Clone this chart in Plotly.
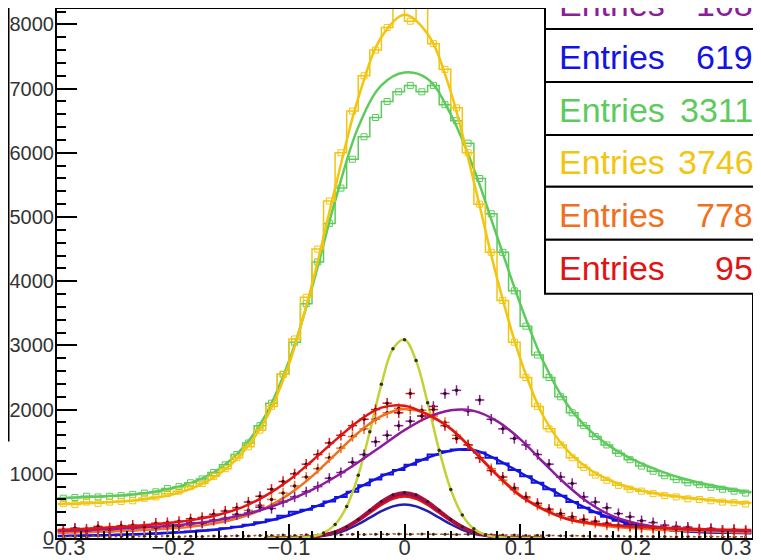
import plotly.graph_objects as go

# ---------------- data ----------------
bin_centers = [round(-0.295 + 0.01 * i, 3) for i in range(60)]
fit_x = [round(-0.30 + 0.02 * i, 2) for i in range(31)]
peak_x = [round(-0.12 + 0.01 * i, 2) for i in range(25)]
x_ticks = [-0.3, -0.2, -0.1, 0, 0.1, 0.2, 0.3]
x_ticktext = ["\u00a0\u00a0\u22120.3", "\u22120.2", "\u22120.1", "0", "0.1", "0.2",
              "0.3\u00a0\u00a0\u00a0\u00a0\u00a0"]

yellow_hist = [540, 520, 560, 540, 560, 570, 580, 620, 640, 690,
               730, 800, 850, 960, 1080, 1250, 1420, 1680, 2050, 2550,
               3100, 3750, 4500, 5250, 6000, 6650, 7200, 7600, 7950, 8400,
               8050, 8400, 7700, 7300, 6700, 6000, 5200, 4450, 3700, 3050,
               2500, 2050, 1700, 1450, 1250, 1100, 980, 900, 820, 760,
               730, 690, 660, 640, 610, 600, 580, 560, 550, 530]
yellow_fit = [530, 540, 555, 575, 615, 680, 800, 1000, 1330, 1850,
              2700, 3950, 5450, 6850, 7800, 8150, 7850, 6950, 5550, 4050,
              2800, 1900, 1380, 1070, 880, 760, 690, 640, 600, 570, 545]

green_hist = [620, 630, 650, 640, 650, 660, 680, 700, 720, 770,
              800, 860, 920, 1020, 1140, 1300, 1480, 1750, 2100, 2550,
              3050, 3650, 4300, 4900, 5450, 5900, 6250, 6550, 6800, 6950,
              7050, 6950, 7050, 6750, 6500, 6150, 5600, 5050, 4450, 3850,
              3300, 2850, 2500, 2200, 1950, 1750, 1580, 1450, 1320, 1220,
              1120, 1040, 970, 910, 860, 830, 790, 760, 730, 700]
green_fit = [620, 635, 650, 670, 710, 780, 890, 1080, 1400, 1920,
             2750, 3900, 5250, 6400, 7050, 7250, 7150, 6600, 5750, 4700,
             3650, 2750, 2100, 1680, 1400, 1200, 1050, 930, 840, 770, 710]

blue_hist = [30, 35, 38, 42, 46, 50, 55, 62, 70, 80,
             90, 100, 115, 130, 150, 175, 205, 245, 290, 345,
             410, 440, 500, 570, 640, 720, 820, 910, 990, 1060,
             1140, 1220, 1300, 1350, 1380, 1370, 1330, 1250, 1160, 1060,
             960, 860, 760, 660, 560, 470, 400, 330, 270, 220,
             180, 150, 130, 115, 105, 95, 90, 85, 80, 78]
blue_fit = [30, 36, 44, 53, 65, 82, 105, 138, 185, 255,
            350, 470, 610, 780, 960, 1100, 1250, 1360, 1370, 1220,
            1020, 820, 620, 440, 300, 200, 145, 110, 90, 80, 75]

purple_pts = [120, 150, 110, 140, 130, 170, 150, 180, 160, 200,
              190, 240, 230, 280, 300, 360, 390, 480, 460, 560,
              640, 720, 800, 930, 1020, 1180, 1300, 1500, 1600, 1750,
              1820, 1900, 2050, 2250, 2300, 1980, 2150, 1850, 1700, 1550,
              1450, 1300, 1150, 950, 850, 640, 560, 470, 380, 330,
              270, 240, 200, 180, 170, 140, 150, 120, 130, 110]
purple_fit = [110, 120, 135, 150, 170, 195, 230, 285, 360, 460,
              590, 750, 950, 1180, 1430, 1680, 1880, 1990, 1980, 1820,
              1540, 1180, 830, 540, 340, 230, 170, 140, 125, 115, 110]

red_pts = [130, 150, 140, 180, 160, 190, 200, 180, 230, 240,
           260, 300, 320, 370, 420, 470, 560, 650, 760, 880,
           1000, 1150, 1300, 1480, 1600, 1750, 1850, 2000, 2100, 1950,
           2250, 1900, 2000, 1750, 1550, 1450, 1250, 1050, 950, 780,
           640, 540, 450, 380, 330, 290, 260, 230, 200, 190,
           170, 160, 150, 140, 150, 130, 140, 120, 130, 120]
red_fit = [125, 140, 160, 180, 205, 240, 290, 365, 480, 660,
           900, 1200, 1520, 1820, 2030, 2060, 1920, 1700, 1350, 980,
           660, 450, 300, 235, 200, 175, 160, 148, 138, 130, 125]

orange_pts = [80, 90, 85, 100, 95, 110, 115, 130, 140, 160,
              175, 200, 230, 270, 310, 370, 430, 510, 600, 700,
              810, 950, 1080, 1250, 1400, 1580, 1700, 1850, 1950, 2020,
              2000, 1990, 1900, 1800, 1600, 1450, 1250, 1080, 900, 750,
              620, 510, 420, 350, 300, 260, 230, 200, 180, 165,
              150, 140, 130, 120, 115, 110, 100, 95, 90, 85]
orange_fit = [80, 90, 100, 112, 128, 150, 185, 240, 330, 470,
              680, 960, 1300, 1640, 1900, 2010, 1930, 1700, 1360, 990,
              670, 440, 300, 220, 175, 150, 130, 115, 105, 95, 90]

narrow_peak = [0, 0, 1, 6, 24, 77, 210, 490, 977, 1656, 2393, 2946, 3090,
               2763, 2105, 1367, 756, 357, 143, 49, 14, 3, 1, 0, 0]
bump_darkred = [0, 0, 3, 8, 20, 47, 96, 177, 292, 431, 569, 672, 710,
                672, 569, 431, 292, 177, 96, 47, 20, 8, 3, 0, 0]
bump_purple = [0, 0, 3, 8, 19, 46, 93, 172, 284, 419, 553, 653, 690,
               653, 553, 419, 284, 172, 93, 46, 19, 8, 3, 0, 0]
bump_red = [0, 0, 3, 7, 18, 43, 88, 162, 267, 395, 521, 615, 650,
            615, 521, 395, 267, 162, 88, 43, 18, 7, 3, 0, 0]
bump_blue = [0, 0, 2, 6, 15, 34, 70, 129, 214, 316, 417, 492, 520,
             492, 417, 316, 214, 129, 70, 34, 15, 6, 2, 0, 0]

baseline_vals = [20, 25, 15, 30, 20, 25, 18, 28, 22, 30,
                 20, 26, 24, 30, 28, 35, 30, 40, 38, 45,
                 40, 50, 45, 55, 50, 60, 55, 60, 58, 62,
                 60, 62, 58, 60, 55, 58, 50, 52, 45, 48,
                 40, 42, 38, 36, 35, 32, 30, 28, 30, 25,
                 28, 22, 25, 20, 24, 18, 22, 20, 18, 20]

stat_labels = ["Entries", "Entries", "Entries", "Entries", "Entries", "Entries"]
stat_values = ["10803", "61904", "331190", "374612", "77852", "9573"]

# ---------------- styling ----------------
C_PURPLE = "#8C1C9C"
C_BLUE = "#1414E0"
C_GREEN = "#5CCB5C"
C_YELLOW = "#F2C511"
C_ORANGE = "#F07020"
C_RED = "#E01414"
C_DARKRED = "#A8103C"
C_NARROW = "#C2D236"

# the page places the figure 8 px in from the top-left corner of the window
OFF = 8
W, H = 761, 560
S_LEFT, S_TOP, S_BOTTOM, S_RIGHT = 57, 9, 538.5, 752   # frame edges as seen in the window
L = S_LEFT - OFF
T = S_TOP - OFF
B = H - (S_BOTTOM - OFF)
R = W - (S_RIGHT - OFF)

fig = go.Figure()

fig.add_trace(go.Scatter(x=bin_centers, y=green_hist, mode="lines+markers", line_shape="hvh",
                         line=dict(color=C_GREEN, width=1.5),
                         marker=dict(symbol="square-open", size=6, color=C_GREEN)))
fig.add_trace(go.Scatter(x=fit_x, y=green_fit, mode="lines", line_shape="spline",
                         line=dict(color=C_GREEN, width=2.5)))
fig.add_trace(go.Scatter(x=bin_centers, y=yellow_hist, mode="lines+markers", line_shape="hvh",
                         line=dict(color=C_YELLOW, width=1.5),
                         marker=dict(symbol="square-open", size=6, color=C_YELLOW)))
fig.add_trace(go.Scatter(x=fit_x, y=yellow_fit, mode="lines", line_shape="spline",
                         line=dict(color=C_YELLOW, width=2.5)))
fig.add_trace(go.Scatter(x=bin_centers, y=blue_hist, mode="lines", line_shape="hvh",
                         line=dict(color=C_BLUE, width=2)))
fig.add_trace(go.Scatter(x=fit_x, y=blue_fit, mode="lines", line_shape="spline",
                         line=dict(color=C_BLUE, width=2.5)))

fig.add_trace(go.Scatter(x=bin_centers, y=baseline_vals, mode="lines+markers", line_shape="hvh",
                         line=dict(color="#B04A20", width=1.5, dash="dot"),
                         marker=dict(size=3, color="#3A2010")))

fig.add_trace(go.Scatter(x=peak_x, y=bump_blue, mode="lines", line_shape="spline",
                         line=dict(color="#2020B0", width=2.5)))
fig.add_trace(go.Scatter(x=peak_x, y=bump_red, mode="lines", line_shape="spline",
                         line=dict(color=C_RED, width=3)))
fig.add_trace(go.Scatter(x=peak_x, y=bump_purple, mode="lines", line_shape="spline",
                         line=dict(color="#801070", width=3)))
fig.add_trace(go.Scatter(x=peak_x, y=bump_darkred, mode="lines+markers", line_shape="spline",
                         line=dict(color=C_DARKRED, width=3),
                         marker=dict(size=3, color="#401020")))

fig.add_trace(go.Scatter(x=peak_x, y=narrow_peak, mode="lines+markers", line_shape="spline",
                         line=dict(color=C_NARROW, width=2.5),
                         marker=dict(size=3.5, color="#303018")))

for pts, fit, col in [(orange_pts, orange_fit, C_ORANGE),
                      (purple_pts, purple_fit, C_PURPLE),
                      (red_pts, red_fit, C_RED)]:
    fig.add_trace(go.Scatter(x=bin_centers, y=pts, mode="markers",
                             marker=dict(size=3.5, color="#301020"),
                             error_y=dict(type="constant", value=80, color=col, thickness=1.5, width=0),
                             error_x=dict(type="constant", value=0.004, color=col, thickness=1.5, width=0)))
    fig.add_trace(go.Scatter(x=fit_x, y=fit, mode="lines", line_shape="spline",
                             line=dict(color=col, width=2.5)))

# ---------------- stat boxes ----------------
paper_w = W - L - R
paper_h = H - T - B


def px2paper_x(sx):
    return (sx - OFF - L) / paper_w


def px2paper_y(sy):
    return (H - B - (sy - OFF)) / paper_h


box_edges = [-24, 29, 82, 135, 187, 240, 294]
box_colors = [C_PURPLE, C_BLUE, C_GREEN, C_YELLOW, C_ORANGE, C_RED]
shapes = []
annotations = []
for i in range(6):
    top, bot = box_edges[i], box_edges[i + 1]
    shapes.append(dict(type="rect", xref="paper", yref="paper",
                       x0=px2paper_x(545), x1=px2paper_x(800),
                       y0=px2paper_y(bot), y1=px2paper_y(top),
                       line=dict(color="black", width=2), fillcolor="white", layer="above"))
    cy = px2paper_y((top + bot) / 2 + 1.5)
    annotations.append(dict(xref="paper", yref="paper", x=px2paper_x(557), y=cy,
                            xanchor="left", yanchor="middle", showarrow=False,
                            text=stat_labels[i],
                            font=dict(family="Liberation Sans, Arial", size=34, color=box_colors[i])))
    annotations.append(dict(xref="paper", yref="paper", x=px2paper_x(793), y=cy,
                            xanchor="right", yanchor="middle", showarrow=False,
                            text=stat_values[i],
                            font=dict(family="Liberation Sans, Arial", size=34, color=box_colors[i])))

# edge of a neighbouring box at the far left
shapes.append(dict(type="line", xref="paper", yref="paper",
                   x0=px2paper_x(8.75), x1=px2paper_x(8.75),
                   y0=px2paper_y(442), y1=px2paper_y(0),
                   line=dict(color="black", width=1.5)))

fig.update_layout(
    width=W, height=H,
    margin=dict(l=L, r=R, t=T, b=B, autoexpand=False),
    paper_bgcolor="white", plot_bgcolor="white",
    showlegend=False,
    shapes=shapes, annotations=annotations,
    font=dict(family="Liberation Sans, Arial", size=20, color="#333333"),
)
fig.update_xaxes(automargin=False,
                 range=[-0.3005, 0.3005], showgrid=False, zeroline=False,
                 showline=True, linecolor="black", linewidth=2, mirror=True,
                 ticks="inside", ticklen=14, tickwidth=1.5, tickcolor="black",
                 tickvals=x_ticks, ticktext=x_ticktext, ticklabelstandoff=-11,
                 ticklabeloverflow="allow",
                 minor=dict(ticks="inside", ticklen=7, dtick=0.02, tick0=0, tickcolor="black", tickwidth=1.5),
                 tickfont=dict(size=22, color="#333333"))
fig.update_yaxes(automargin=False, range=[0, 8240], showgrid=False, zeroline=False,
                 showline=True, linecolor="black", linewidth=2, mirror=True,
                 ticks="inside", ticklen=20, tickwidth=1.5, tickcolor="black",
                 dtick=1000, tick0=0, ticklabelstandoff=-3, ticklabeloverflow="allow",
                 minor=dict(ticks="inside", ticklen=9, dtick=200, tick0=0, tickcolor="black", tickwidth=1.5),
                 tickfont=dict(size=20, color="#333333"))

fig.write_html("out.html")
